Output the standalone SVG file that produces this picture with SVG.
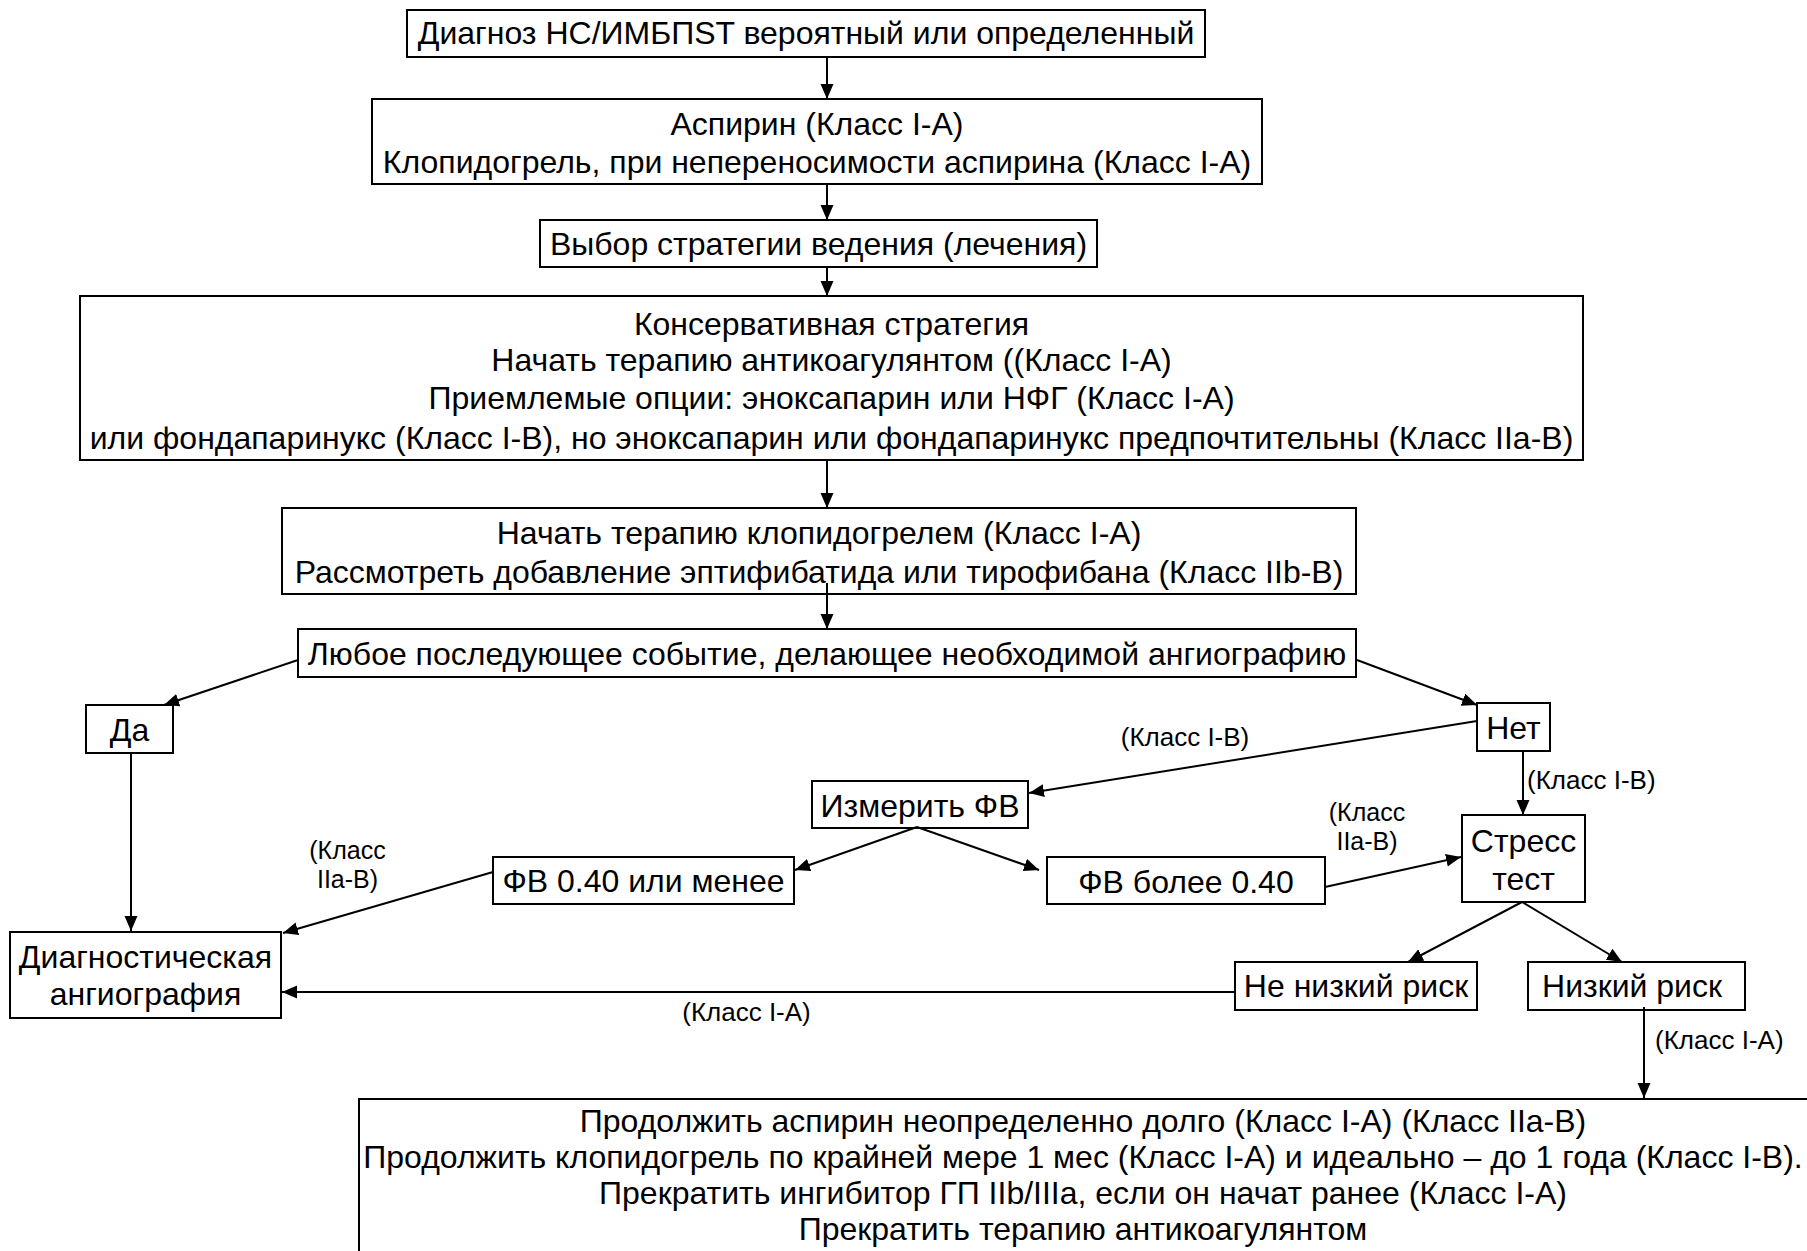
<svg xmlns="http://www.w3.org/2000/svg" width="1807" height="1251" viewBox="0 0 1807 1251">
<style>
.box{fill:#fff;stroke:#000;stroke-width:2}
.t{font-family:"Liberation Sans",Arial,sans-serif;font-size:32px;fill:#000;text-anchor:middle}
.s{font-family:"Liberation Sans",Arial,sans-serif;font-size:26px;fill:#000;text-anchor:middle}
.s2{font-family:"Liberation Sans",Arial,sans-serif;font-size:25px;fill:#000;text-anchor:middle}
.c line{stroke:#000;stroke-width:2;marker-end:url(#ah)}
</style>
<defs>
<marker id="ah" markerUnits="userSpaceOnUse" markerWidth="16" markerHeight="14" refX="15" refY="6.5" orient="auto">
<path d="M0,0 L15,6.5 L0,13 z" fill="#000"/>
</marker>
</defs>
<rect width="1807" height="1251" fill="#fff"/>

<g id="n1"><rect class="box" x="407" y="10" width="798" height="47"/>
<text class="t" x="806" y="44">Диагноз НС/ИМБПST вероятный или определенный</text></g>

<g id="n2"><rect class="box" x="372" y="99" width="890" height="85"/>
<text class="t" x="817" y="135">Аспирин (Класс I-A)</text>
<text class="t" x="817" y="173">Клопидогрель, при непереносимости аспирина (Класс I-A)</text></g>

<g id="n3"><rect class="box" x="540" y="220" width="557" height="47"/>
<text class="t" x="818.5" y="255">Выбор стратегии ведения (лечения)</text></g>

<g id="n4"><rect class="box" x="80" y="296" width="1503" height="164"/>
<text class="t" x="831.5" y="335">Консервативная стратегия</text>
<text class="t" x="831.5" y="371">Начать терапию антикоагулянтом ((Класс I-A)</text>
<text class="t" x="831.5" y="409">Приемлемые опции: эноксапарин или НФГ (Класс I-A)</text>
<text class="t" x="831.5" y="449">или фондапаринукс (Класс I-B), но эноксапарин или фондапаринукс предпочтительны (Класс IIa-B)</text></g>

<g id="n5"><rect class="box" x="282" y="508" width="1074" height="86"/>
<text class="t" x="819" y="544">Начать терапию клопидогрелем (Класс I-A)</text>
<text class="t" x="819" y="583">Рассмотреть добавление эптифибатида или тирофибана (Класс IIb-B)</text></g>

<g id="n6"><rect class="box" x="298" y="629" width="1058" height="48"/>
<text class="t" x="827" y="665">Любое последующее событие, делающее необходимой ангиографию</text></g>

<g id="n7"><rect class="box" x="86" y="705" width="87" height="48"/>
<text class="t" x="129.5" y="741">Да</text></g>

<g id="n8"><rect class="box" x="1477" y="703" width="73" height="48"/>
<text class="t" x="1513.5" y="739">Нет</text></g>

<g id="n9"><rect class="box" x="812" y="781" width="216" height="47"/>
<text class="t" x="920" y="817">Измерить ФВ</text></g>

<g id="n10"><rect class="box" x="493" y="857" width="301" height="47"/>
<text class="t" x="643.5" y="892">ФВ 0.40 или менее</text></g>

<g id="n11"><rect class="box" x="1047" y="857" width="278" height="47"/>
<text class="t" x="1186" y="893">ФВ более 0.40</text></g>

<g id="n12"><rect class="box" x="1462" y="815" width="123" height="87"/>
<text class="t" x="1523.5" y="852">Стресс</text>
<text class="t" x="1523.5" y="890">тест</text></g>

<g id="n13"><rect class="box" x="10" y="932" width="271" height="86"/>
<text class="t" x="145.5" y="968">Диагностическая</text>
<text class="t" x="145.5" y="1005">ангиография</text></g>

<g id="n14"><rect class="box" x="1235" y="962" width="242" height="48"/>
<text class="t" x="1356" y="997">Не низкий риск</text></g>

<g id="n15"><rect class="box" x="1528" y="962" width="217" height="48"/>
<text class="t" x="1632" y="997">Низкий риск</text></g>

<g id="n16"><rect class="box" x="359" y="1099" width="1460" height="200"/>
<text class="t" x="1083" y="1132">Продолжить аспирин неопределенно долго (Класс I-A) (Класс IIa-B)</text>
<text class="t" x="1083" y="1168">Продолжить клопидогрель по крайней мере 1 мес (Класс I-A) и идеально – до 1 года (Класс I-B).</text>
<text class="t" x="1083" y="1204">Прекратить ингибитор ГП IIb/IIIa, если он начат ранее (Класс I-A)</text>
<text class="t" x="1083" y="1240">Прекратить терапию антикоагулянтом</text></g>

<g id="connectors" class="c">
<line x1="827" y1="57" x2="827" y2="99"/>
<line x1="827" y1="184" x2="827" y2="220"/>
<line x1="827" y1="267" x2="827" y2="296"/>
<line x1="827" y1="460" x2="827" y2="508"/>
<line x1="827" y1="583" x2="827" y2="629"/>
<line x1="298" y1="660" x2="164" y2="705"/>
<line x1="1357" y1="660" x2="1477" y2="705"/>
<line x1="131" y1="752" x2="131" y2="931"/>
<line x1="1477" y1="721" x2="1029" y2="793"/>
<line x1="1523" y1="751" x2="1523" y2="815"/>
<line x1="917" y1="827" x2="795" y2="870"/>
<line x1="917" y1="827" x2="1039" y2="870"/>
<line x1="493" y1="872" x2="283" y2="933"/>
<line x1="1325" y1="887" x2="1461" y2="857"/>
<line x1="1522" y1="902" x2="1408" y2="962"/>
<line x1="1522" y1="902" x2="1622" y2="962"/>
<line x1="1235" y1="992" x2="282" y2="992"/>
<line x1="1644" y1="1007" x2="1644" y2="1098"/>
</g>

<g id="labels">
<text class="s" x="1185" y="746">(Класс I-B)</text>
<text class="s" x="1527" y="789" style="text-anchor:start">(Класс I-B)</text>
<text class="s2" x="1367" y="821">(Класс</text>
<text class="s2" x="1367" y="850">IIa-B)</text>
<text class="s2" x="347.5" y="859">(Класс</text>
<text class="s2" x="347.5" y="888">IIa-B)</text>
<text class="s" x="746.5" y="1021">(Класс I-A)</text>
<text class="s" x="1655" y="1049" style="text-anchor:start">(Класс I-A)</text>
</g>
</svg>
